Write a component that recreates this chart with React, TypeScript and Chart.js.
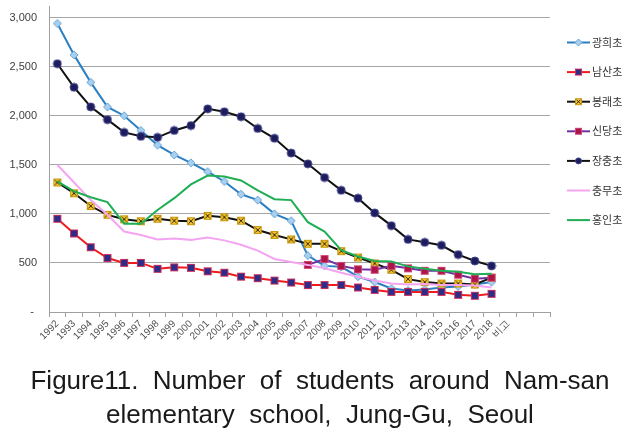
import React, { useEffect, useRef } from 'react';
import { Chart, registerables } from 'chart.js';

Chart.register(...registerables);

const categories = [
  '1992', '1993', '1994', '1995', '1996', '1997', '1998', '1999', '2000',
  '2001', '2002', '2003', '2004', '2005', '2006', '2007', '2008', '2009',
  '2010', '2011', '2012', '2013', '2014', '2015', '2016', '2017', '2018',
  '비고', '', '',
];

const schoolNames = ['광희초', '남산초', '봉래초', '신당초', '장충초', '충무초', '홍인초'];

const gwanghui = [2940, 2620, 2340, 2090, 2000, 1850, 1700, 1600, 1520, 1430, 1330, 1200, 1140, 1000, 930, 575, 470, 460, 360, 305, 240, 220, 230, 250, 260, 280, 305];
const namsan = [950, 800, 660, 550, 500, 500, 440, 455, 450, 415, 400, 360, 345, 320, 300, 275, 275, 275, 250, 225, 205, 205, 205, 205, 175, 165, 185];
const bongnae = [1320, 1210, 1080, 990, 945, 925, 950, 930, 925, 980, 965, 930, 835, 785, 740, 695, 695, 620, 555, 495, 430, 335, 305, 290, 290, 280, 350];
const sindang = [null, null, null, null, null, null, null, null, null, null, null, null, null, null, null, 480, 540, 470, 435, 430, 470, 445, 420, 420, 380, 340, 350];
const jangchung = [2530, 2290, 2090, 1960, 1830, 1790, 1780, 1850, 1900, 2070, 2040, 1990, 1870, 1770, 1620, 1510, 1370, 1240, 1160, 1010, 880, 740, 710, 680, 585, 520, 470];
const chungmu = [1500, 1320, 1140, 990, 820, 785, 740, 750, 735, 760, 730, 685, 625, 540, 510, 480, 445, 400, 360, 320, 290, 280, 285, 275, 275, 270, 250];
const hongin = [1330, 1230, 1170, 1120, 900, 900, 1040, 1160, 1300, 1390, 1380, 1340, 1240, 1150, 1140, 915, 820, 630, 565, 520, 515, 465, 440, 420, 410, 385, 390];

const yTickValues = [0, 500, 1000, 1500, 2000, 2500, 3000];

const titleLines = [
  'Figure11.  Number  of  students  around  Nam-san',
  'elementary  school,  Jung-Gu,  Seoul',
];

type MarkerKind = 'diamond' | 'navySquare' | 'yellowX' | 'crimsonSquare' | 'circle' | null;

const seriesStyle: { line: string; marker: MarkerKind }[] = [
  { line: '#2b7fc3', marker: 'diamond' },
  { line: '#ee1c1c', marker: 'navySquare' },
  { line: '#111111', marker: 'yellowX' },
  { line: '#7030a0', marker: 'crimsonSquare' },
  { line: '#111111', marker: 'circle' },
  { line: '#f4a4f0', marker: null },
  { line: '#1fae55', marker: null },
];

const seriesData = [gwanghui, namsan, bongnae, sindang, jangchung, chungmu, hongin];

function drawMarker(ctx: CanvasRenderingContext2D, kind: MarkerKind, cx: number, cy: number, s: number) {
  const h = s / 2;
  ctx.save();
  ctx.lineWidth = 1;
  if (kind === 'diamond') {
    ctx.beginPath();
    ctx.moveTo(cx, cy - h);
    ctx.lineTo(cx + h, cy);
    ctx.lineTo(cx, cy + h);
    ctx.lineTo(cx - h, cy);
    ctx.closePath();
    ctx.fillStyle = '#a9cfee';
    ctx.fill();
    ctx.strokeStyle = '#6aa6d8';
    ctx.stroke();
  } else if (kind === 'navySquare') {
    ctx.fillStyle = '#c8305e';
    ctx.fillRect(cx - h, cy - h, s, s);
    ctx.fillStyle = '#2e2c86';
    ctx.fillRect(cx - h + 1, cy - h + 1, s - 2, s - 2);
  } else if (kind === 'yellowX') {
    ctx.fillStyle = '#c89a10';
    ctx.fillRect(cx - h, cy - h, s, s);
    ctx.fillStyle = '#f6c531';
    ctx.fillRect(cx - h + 1, cy - h + 1, s - 2, s - 2);
    ctx.strokeStyle = '#3a2a00';
    ctx.beginPath();
    ctx.moveTo(cx - h + 1.5, cy - h + 1.5);
    ctx.lineTo(cx + h - 1.5, cy + h - 1.5);
    ctx.moveTo(cx + h - 1.5, cy - h + 1.5);
    ctx.lineTo(cx - h + 1.5, cy + h - 1.5);
    ctx.stroke();
  } else if (kind === 'crimsonSquare') {
    ctx.fillStyle = '#d0477a';
    ctx.fillRect(cx - h, cy - h, s, s);
    ctx.fillStyle = '#ad1548';
    ctx.fillRect(cx - h + 1, cy - h + 1, s - 2, s - 2);
  } else if (kind === 'circle') {
    ctx.beginPath();
    ctx.arc(cx, cy, h, 0, Math.PI * 2);
    ctx.fillStyle = '#1d1d5e';
    ctx.fill();
    ctx.strokeStyle = '#40408a';
    ctx.stroke();
  }
  ctx.restore();
}

function markerImage(kind: MarkerKind, s: number): HTMLCanvasElement {
  const c = document.createElement('canvas');
  c.width = s + 2;
  c.height = s + 2;
  const ctx = c.getContext('2d')!;
  drawMarker(ctx, kind, (s + 2) / 2, (s + 2) / 2, s);
  return c;
}

const legendPlugin = {
  id: 'sideLegend',
  afterDraw(chart: any) {
    const ctx: CanvasRenderingContext2D = chart.ctx;
    const x0 = chart.chartArea.right + 17;
    ctx.save();
    schoolNames.forEach((name, i) => {
      const y = 42.5 + i * 29.6;
      const st = seriesStyle[i];
      ctx.strokeStyle = st.line;
      ctx.lineWidth = 2;
      ctx.beginPath();
      ctx.moveTo(x0, y);
      ctx.lineTo(x0 + 23, y);
      ctx.stroke();
      if (st.marker) drawMarker(ctx, st.marker, x0 + 11.5, y, st.marker === 'circle' ? 6 : 7);
      ctx.fillStyle = '#333333';
      ctx.font = '11px "Noto Sans CJK KR"';
      ctx.textBaseline = 'middle';
      ctx.textAlign = 'left';
      ctx.fillText(name, x0 + 25, y);
    });
    ctx.restore();
  },
};

const titlePlugin = {
  id: 'bottomTitle',
  afterDraw(chart: any) {
    const ctx: CanvasRenderingContext2D = chart.ctx;
    ctx.save();
    ctx.fillStyle = '#1a1a1a';
    ctx.font = '26px "Liberation Sans"';
    ctx.textAlign = 'center';
    ctx.textBaseline = 'alphabetic';
    ctx.fillText(titleLines[0], chart.width / 2, chart.height - 45);
    ctx.fillText(titleLines[1], chart.width / 2, chart.height - 11);
    ctx.restore();
  },
};

export default function App() {
  const ref = useRef<HTMLCanvasElement | null>(null);

  useEffect(() => {
    if (!ref.current) return;
    const datasets = schoolNames.map((name, i) => {
      const st = seriesStyle[i];
      const kind = st.marker;
      return {
        label: name,
        data: seriesData[i],
        borderColor: st.line,
        backgroundColor: st.line,
        borderWidth: 2,
        tension: 0,
        pointStyle: kind ? markerImage(kind, 8) : false,
        pointRadius: kind ? 4 : 0,
        order: schoolNames.length - i,
        spanGaps: false,
      };
    });

    const chart = new Chart(ref.current, {
      type: 'line',
      data: { labels: categories, datasets: datasets as any },
      options: {
        animation: false,
        responsive: true,
        maintainAspectRatio: false,
        layout: { padding: { top: 6, right: 90, bottom: 0, left: 0 } },
        plugins: {
          legend: { display: false },
          title: { display: false },
          tooltip: { enabled: false },
        },
        scales: {
          x: {
            offset: true,
            grid: {
              offset: true,
              drawOnChartArea: false,
              drawTicks: true,
              tickLength: 5,
              color: '#a0a0a0',
            },
            border: { color: '#a0a0a0', width: 1 },
            ticks: {
              autoSkip: false,
              maxRotation: 45,
              minRotation: 45,
              padding: 1,
              color: '#505050',
              font: { family: '"Liberation Sans"', size: 10 },
            },
            afterFit: (scale: any) => {
              scale.height = 122;
            },
          },
          y: {
            min: 0,
            max: 3112,
            afterBuildTicks: (axis: any) => {
              axis.ticks = yTickValues.map((v) => ({ value: v }));
            },
            grid: { color: '#a6a6a6', drawTicks: true, tickLength: 12, tickColor: 'rgba(0,0,0,0)' },
            border: { color: '#a0a0a0', width: 1 },
            ticks: {
              padding: 0,
              color: '#404040',
              font: { family: '"Liberation Sans"', size: 11 },
              callback: (v: any) => (Number(v) === 0 ? '- ' : Number(v).toLocaleString('en-US')),
            },
            afterFit: (scale: any) => {
              scale.width = 49;
            },
          },
        },
      },
      plugins: [legendPlugin, titlePlugin],
    });
    return () => chart.destroy();
  }, []);

  return (
    <div style={{ position: 'absolute', left: 0, top: 0, width: 640, height: 434, background: '#ffffff' }}>
      <canvas ref={ref} />
    </div>
  );
}
